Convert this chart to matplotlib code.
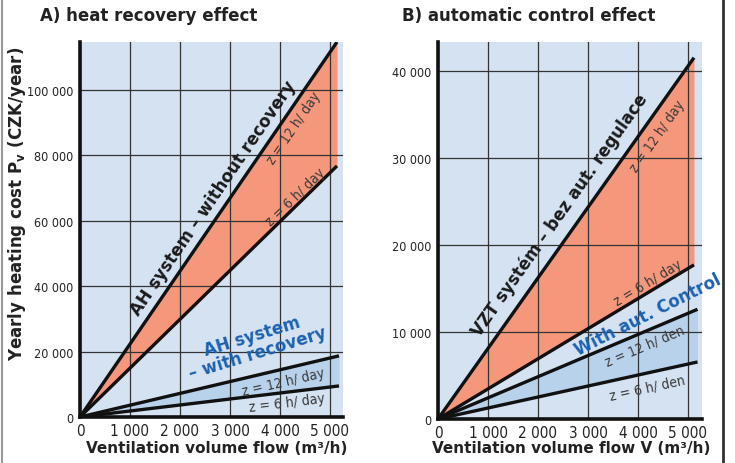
import matplotlib.pyplot as plt
from matplotlib.lines import Line2D
from matplotlib import font_manager

# --- data ---
flow_ticks = [0, 1000, 2000, 3000, 4000, 5000]
flow_labels = ['0', '1 000', '2 000', '3 000', '4 000', '5 000']

# A) heat recovery effect
a_flow_norec = [0, 5140]
a_norec_12h = [0, 114700]
a_norec_6h = [0, 76800]
a_flow_rec = [0, 5180]
a_rec_12h = [0, 18700]
a_rec_6h = [0, 9500]
a_yticks = [0, 20000, 40000, 60000, 80000, 100000]
a_ylabels = ['0', '20 000', '40 000', '60 000', '80 000', '100 000']

# B) automatic control effect
b_flow_noctl = [0, 5120]
b_noctl_12h = [0, 41500]
b_noctl_6h = [0, 17700]
b_flow_ctl = [0, 5190]
b_ctl_12h = [0, 12600]
b_ctl_6h = [0, 6550]
b_yticks = [0, 10000, 20000, 30000, 40000]
b_ylabels = ['0', '10 000', '20 000', '30 000', '40 000']

bg = '#d4e2f2'
orange = '#f5977b'
band = '#b9d2ec'
blue_txt = '#1c62ae'
grey_txt = '#3a3a3a'

names = {f.name for f in font_manager.fontManager.ttflist}
if 'DejaVu Sans Condensed' in names:
    narrow = dict(family='DejaVu Sans Condensed')
else:
    narrow = dict(family='DejaVu Sans', stretch='condensed')

fig = plt.figure(figsize=(7.35, 4.64), dpi=100)
ax1 = fig.add_axes([80/735, 1-418/464, 263/735, 375/464])
ax2 = fig.add_axes([438/735, 1-420/464, 264/735, 377/464])


def style(ax, yticks, ylabels, xmax, ymax):
    ax.set_facecolor(bg)
    ax.set_xlim(0, xmax)
    ax.set_ylim(0, ymax)
    ax.set_xticks(flow_ticks)
    ax.set_xticklabels(flow_labels, fontsize=11, color='#222222', **narrow)
    ax.set_yticks(yticks)
    ax.set_yticklabels(ylabels, fontsize=9, color='#222222', **narrow)
    ax.tick_params(length=0, pad=5)
    ax.tick_params(axis='x', pad=4)
    ax.set_axisbelow(False)
    ax.grid(True, color='#333333', lw=0.9)
    for s in ['top', 'right']:
        ax.spines[s].set_visible(False)
    for s in ['left', 'bottom']:
        ax.spines[s].set_linewidth(2.6)
        ax.spines[s].set_color('#111111')
        ax.spines[s].set_zorder(4)


style(ax1, a_yticks, a_ylabels, 5260, 114700)
style(ax2, b_yticks, b_ylabels, 5280, 43300)

# fills and lines, panel A
ax1.fill_between(a_flow_norec, a_norec_6h, a_norec_12h, color=orange, lw=0, zorder=1)
ax1.fill_between(a_flow_rec, a_rec_6h, a_rec_12h, color=band, lw=0, zorder=1)
for x, y in [(a_flow_norec, a_norec_12h), (a_flow_norec, a_norec_6h),
             (a_flow_rec, a_rec_12h), (a_flow_rec, a_rec_6h)]:
    ax1.plot(x, y, color='#111111', lw=2.4, zorder=3, solid_capstyle='butt')

# fills and lines, panel B
ax2.fill_between(b_flow_noctl, b_noctl_6h, b_noctl_12h, color=orange, lw=0, zorder=1)
ax2.fill_between(b_flow_ctl, b_ctl_6h, b_ctl_12h, color=band, lw=0, zorder=1)
for x, y in [(b_flow_noctl, b_noctl_12h), (b_flow_noctl, b_noctl_6h),
             (b_flow_ctl, b_ctl_12h), (b_flow_ctl, b_ctl_6h)]:
    ax2.plot(x, y, color='#111111', lw=2.4, zorder=3, solid_capstyle='butt')

small = dict(fontsize=10, color=grey_txt, ha='center', va='center',
             rotation_mode='anchor', zorder=5, **narrow)

# annotations, panel A
ax1.text(2660, 67300, 'AH system – without recovery', rotation=55.7, fontsize=12,
         fontweight='bold', color='#1a1a1a', ha='center', va='center', zorder=5,
         rotation_mode='anchor')
ax1.text(4280, 88700, 'z = 12 h/ day', rotation=55.7, **small)
ax1.text(4320, 67600, 'z = 6 h/ day', rotation=44, **small)
ax1.text(3500, 22300, 'AH system\n– with recovery', rotation=17, fontsize=12,
         fontweight='bold', color=blue_txt, ha='center', va='center',
         multialignment='center', rotation_mode='anchor', linespacing=0.95, zorder=5)
ax1.text(4060, 10700, 'z = 12 h/ day', rotation=13, **small)
ax1.text(4140, 4600, 'z = 6 h/ day', rotation=7, **small)

# annotations, panel B
ax2.text(2440, 23560, 'VZT systém – bez aut. regulace', rotation=54.8, fontsize=12,
         fontweight='bold', color='#1a1a1a', ha='center', va='center',
         rotation_mode='anchor', zorder=5)
ax2.text(4400, 32530, 'z = 12 h/ day', rotation=54.8, **small)
ax2.text(4200, 15750, 'z = 6 h/ day', rotation=31, **small)
ax2.text(4200, 12070, 'With aut. Control', rotation=26.7, fontsize=12,
         fontweight='bold', color=blue_txt, ha='center', va='center',
         rotation_mode='anchor', zorder=5)
ax2.text(4140, 8500, 'z = 12 h/ den', rotation=23, **small)
ax2.text(4180, 3680, 'z = 6 h/ den', rotation=12.4, **small)

# titles and axis labels
fig.text(40/735, 1-16/464, 'A) heat recovery effect', fontsize=12, fontweight='bold',
         color='#222222', ha='left', va='center')
fig.text(402/735, 1-16/464, 'B) automatic control effect', fontsize=12, fontweight='bold',
         color='#222222', ha='left', va='center')
fig.text(17/735, 1-204/464, 'Yearly heating cost P$_\\mathregular{v}$ (CZK/year)',
         rotation=90, fontsize=12, fontweight='bold', color='#222222',
         ha='center', va='center')
fig.text(217/735, 1-449/464, 'Ventilation volume flow (m³/h)', fontsize=11,
         fontweight='bold', color='#222222', ha='center', va='center')
fig.text(571/735, 1-449/464, 'Ventilation volume flow V (m³/h)', fontsize=11,
         fontweight='bold', color='#222222', ha='center', va='center')

# page frame lines
fig.add_artist(Line2D([1.5/735, 1.5/735], [0, 1], color='#999999', lw=1.5))
fig.add_artist(Line2D([723/735, 723/735], [0, 1], color='#333333', lw=2))

fig.savefig('out.png', dpi=100)
